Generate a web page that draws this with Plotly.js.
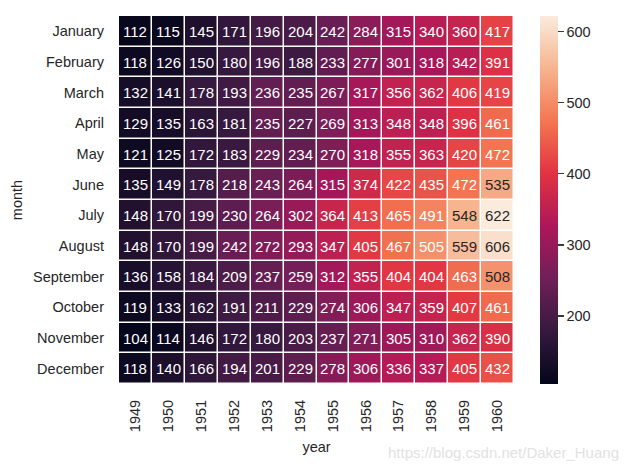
<!DOCTYPE html>
<html>
<head>
<meta charset="utf-8">
<script src="https://cdn.plot.ly/plotly-3.0.1.min.js"></script>
<style>
  html, body { margin: 0; padding: 0; background: #ffffff; }
  #grafico { width: 627px; height: 470px; }
</style>
</head>
<body>
<div id="grafico"></div>
<script>
// ---------------------------------------------------------------------
// DATOS (pasajeros por mes y año)
// ---------------------------------------------------------------------
const anios = ["1949", "1950", "1951", "1952", "1953", "1954", "1955", "1956", "1957", "1958", "1959", "1960"];
const meses = ["January", "February", "March", "April", "May", "June", "July", "August", "September", "October", "November", "December"];

const p1949 = [112, 118, 132, 129, 121, 135, 148, 148, 136, 119, 104, 118];
const p1950 = [115, 126, 141, 135, 125, 149, 170, 170, 158, 133, 114, 140];
const p1951 = [145, 150, 178, 163, 172, 178, 199, 199, 184, 162, 146, 166];
const p1952 = [171, 180, 193, 181, 183, 218, 230, 242, 209, 191, 172, 194];
const p1953 = [196, 196, 236, 235, 229, 243, 264, 272, 237, 211, 180, 201];
const p1954 = [204, 188, 235, 227, 234, 264, 302, 293, 259, 229, 203, 229];
const p1955 = [242, 233, 267, 269, 270, 315, 364, 347, 312, 274, 237, 278];
const p1956 = [284, 277, 317, 313, 318, 374, 413, 405, 355, 306, 271, 306];
const p1957 = [315, 301, 356, 348, 355, 422, 465, 467, 404, 347, 305, 336];
const p1958 = [340, 318, 362, 348, 363, 435, 491, 505, 404, 359, 310, 337];
const p1959 = [360, 342, 406, 396, 420, 472, 548, 559, 463, 407, 362, 405];
const p1960 = [417, 391, 419, 461, 472, 535, 622, 606, 508, 461, 390, 432];

const ticksBarra = [200, 300, 400, 500, 600];

// paleta "rocket" aproximada
const rocket = [
  [0.0, "#03051a"],
  [1 / 7, "#35193e"],
  [2 / 7, "#701f57"],
  [3 / 7, "#ad1759"],
  [4 / 7, "#e13342"],
  [5 / 7, "#f37651"],
  [6 / 7, "#f6b48f"],
  [1.0, "#faebdd"],
];

// ---------------------------------------------------------------------
// MATRIZ mes x año
// ---------------------------------------------------------------------
const columnas = [p1949, p1950, p1951, p1952, p1953, p1954, p1955, p1956, p1957, p1958, p1959, p1960];
const z = meses.map((m, i) => columnas.map((col) => col[i]));
const todos = z.flat();
const zmin = Math.min(...todos);
const zmax = Math.max(...todos);

function hexARgb(h) {
  return [1, 3, 5].map((k) => parseInt(h.slice(k, k + 2), 16) / 255);
}

function colorEn(v) {
  const t = (v - zmin) / (zmax - zmin);
  for (let k = 1; k < rocket.length; k++) {
    if (t <= rocket[k][0]) {
      const a = hexARgb(rocket[k - 1][1]);
      const b = hexARgb(rocket[k][1]);
      const f = (t - rocket[k - 1][0]) / (rocket[k][0] - rocket[k - 1][0]);
      return a.map((c, j) => c + (b[j] - c) * f);
    }
  }
  return hexARgb(rocket[rocket.length - 1][1]);
}

// misma regla que seaborn: texto oscuro sobre celdas claras
function luminancia(rgb) {
  const lin = rgb.map((c) => (c <= 0.03928 ? c / 12.92 : Math.pow((c + 0.055) / 1.055, 2.4)));
  return 0.2126 * lin[0] + 0.7152 * lin[1] + 0.0722 * lin[2];
}

const fuente = { family: "Liberation Sans, Arial, sans-serif", size: 14.5, color: "#262626" };

// en ejes de categorias, x/y numericos son el indice de la categoria
const anotaciones = [];
meses.forEach((m, i) => {
  anios.forEach((a, j) => {
    const v = z[i][j];
    anotaciones.push({
      x: j, y: i, xref: "x", yref: "y",
      text: String(v), showarrow: false,
      font: { family: fuente.family, size: 15, color: luminancia(colorEn(v)) > 0.408 ? "#262626" : "#ffffff" },
    });
  });
});

// marca de agua
anotaciones.push({
  xref: "paper", yref: "paper", x: 1.27, y: -0.185, xanchor: "right", yanchor: "middle",
  text: "https://blog.csdn.net/Daker_Huang", showarrow: false,
  font: { family: fuente.family, size: 15, color: "#e2e2e2" },
});

const traza = {
  type: "heatmap",
  x: anios,
  y: meses,
  z: z,
  colorscale: rocket,
  zmin: zmin,
  zmax: zmax,
  xgap: 1.5,
  ygap: 1.5,
  colorbar: {
    x: 1.066, xanchor: "left", xpad: 0, ypad: 0,
    y: 0.5, yanchor: "middle", len: 1, lenmode: "fraction",
    thickness: 18, outlinewidth: 0,
    tickvals: ticksBarra, ticks: "outside", ticklen: 6, tickwidth: 1.5, tickcolor: "#3a3a3a",
    tickfont: fuente,
  },
};

const layout = {
  width: 627,
  height: 470,
  margin: { l: 119, r: 113, t: 16, b: 86 },
  paper_bgcolor: "#ffffff",
  plot_bgcolor: "#ffffff",
  font: fuente,
  xaxis: {
    type: "category",
    tickangle: -90,
    ticks: "",
    showgrid: false,
    zeroline: false,
    showline: false,
    tickfont: fuente,
    ticklabelstandoff: 12,
    title: { text: "year", font: fuente, standoff: 10 },
  },
  yaxis: {
    type: "category",
    autorange: "reversed",
    ticks: "",
    showgrid: false,
    zeroline: false,
    showline: false,
    tickfont: fuente,
    ticklabelstandoff: 14,
    title: { text: "month", font: fuente, standoff: 6 },
  },
  annotations: anotaciones,
};

Plotly.newPlot("grafico", [traza], layout, { staticPlot: true, displayModeBar: false });
</script>
</body>
</html>
